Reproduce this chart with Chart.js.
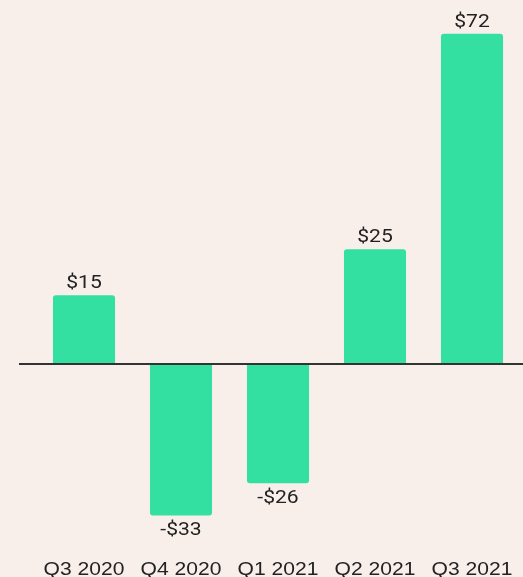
<!DOCTYPE html>
<html>
<head>
<meta charset="utf-8">
<script src="https://cdn.jsdelivr.net/npm/chart.js@4"></script>
<style>
    html, body { margin: 0; padding: 0; background: #f9efea; }
    #wrap { width: 523px; height: 577px; }
</style>
</head>
<body>
<div id="wrap"><canvas id="myChart"></canvas></div>
<script>
    var quarters = ['Q3 2020', 'Q4 2020', 'Q1 2021', 'Q2 2021', 'Q3 2021'];
    var earnings = [15, -33, -26, 25, 72];

    // text is drawn slightly wide
    var STRETCH = 1.14;

    function wideText(ctx, text, x, y) {
        ctx.save();
        ctx.translate(x, y);
        ctx.scale(STRETCH, 1);
        ctx.fillText(text, 0, 0);
        ctx.restore();
    }

    // black baseline at zero, running past the left edge of the plot
    var zeroLine = {
        id: 'zeroLine',
        afterDatasetsDraw: function (chart) {
            var ctx = chart.ctx;
            var y = chart.scales.y.getPixelForValue(0);
            ctx.save();
            ctx.strokeStyle = '#333333';
            ctx.lineWidth = 2;
            ctx.beginPath();
            ctx.moveTo(19, y);
            ctx.lineTo(chart.width, y);
            ctx.stroke();
            ctx.restore();
        }
    };

    // dollar amounts above / below each bar, quarter names along the bottom
    var labels = {
        id: 'labels',
        afterDatasetsDraw: function (chart) {
            var ctx = chart.ctx;
            var meta = chart.getDatasetMeta(0);
            var xScale = chart.scales.x;
            ctx.save();
            ctx.fillStyle = '#222222';
            ctx.textAlign = 'center';
            ctx.textBaseline = 'alphabetic';

            ctx.font = '18.5px Roboto';
            meta.data.forEach(function (bar, i) {
                var v = earnings[i];
                var text = (v < 0 ? '-$' : '$') + Math.abs(v);
                var y = v < 0 ? bar.y + 19.5 : bar.y - 7;
                wideText(ctx, text, bar.x, y);
            });

            ctx.font = '18.5px "Liberation Sans", Arial';
            quarters.forEach(function (q, i) {
                wideText(ctx, q, xScale.getPixelForValue(i), 575);
            });
            ctx.restore();
        }
    };

    new Chart(document.getElementById('myChart'), {
        type: 'bar',
        data: {
            labels: quarters,
            datasets: [
                {
                    data: earnings,
                    backgroundColor: '#34e0a1',
                    borderRadius: 3,
                    barPercentage: 0.64,
                    categoryPercentage: 1
                }
            ]
        },
        options: {
            responsive: true,
            maintainAspectRatio: false,
            animation: false,
            layout: {
                padding: { left: 35.5, right: 2.5, top: 6.1, bottom: 29.5 }
            },
            scales: {
                x: { display: false },
                y: {
                    display: false,
                    min: -40,
                    max: 78
                }
            },
            plugins: {
                legend: { display: false },
                tooltip: { enabled: false }
            }
        },
        plugins: [zeroLine, labels]
    });
</script>
</body>
</html>
